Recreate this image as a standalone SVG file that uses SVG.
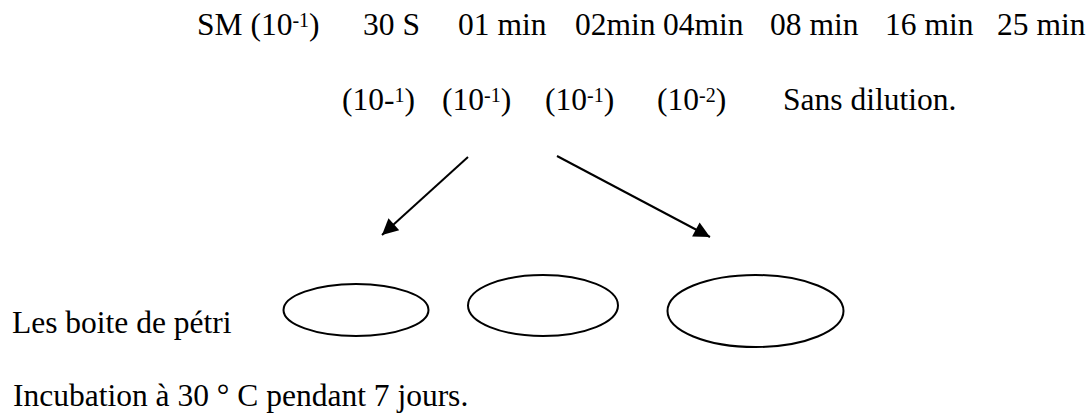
<svg xmlns="http://www.w3.org/2000/svg" width="1089" height="417" viewBox="0 0 1089 417">
<style>
text{font-family:"Liberation Serif","Times New Roman",serif;font-size:31.5px;fill:#000}
.sup{font-size:20px}
.dish{fill:none;stroke:#000;stroke-width:2}
.arr{stroke:#000;stroke-width:2;fill:none}
</style>
<defs>
<marker id="ah" viewBox="0 0 10 10" refX="10" refY="5" markerWidth="9" markerHeight="8" markerUnits="strokeWidth" orient="auto">
<path d="M0,0 L10,5 L0,10 z" fill="#000"/>
</marker>
</defs>
<rect width="1089" height="417" fill="#fff"/>
<g id="times">
<text x="197" y="35">SM (10<tspan class="sup" dy="-8">-1</tspan><tspan dy="8">)</tspan></text>
<text x="363" y="35">30 S</text>
<text x="458" y="35">01 min</text>
<text x="575" y="35">02min</text>
<text x="663" y="35">04min</text>
<text x="770" y="35">08 min</text>
<text x="885" y="35">16 min</text>
<text x="997" y="35">25 min</text>
</g>
<g id="dilutions">
<text x="342" y="110">(10-<tspan class="sup" dy="-8">1</tspan><tspan dy="8">)</tspan></text>
<text x="442" y="110">(10<tspan class="sup" dy="-8">-1</tspan><tspan dy="8">)</tspan></text>
<text x="545" y="110">(10<tspan class="sup" dy="-8">-1</tspan><tspan dy="8">)</tspan></text>
<text x="657" y="110">(10<tspan class="sup" dy="-8">-2</tspan><tspan dy="8">)</tspan></text>
<text x="783" y="110">Sans dilution.</text>
</g>
<g id="connectors">
<line class="arr" x1="468" y1="157" x2="382" y2="235" marker-end="url(#ah)"/>
<line class="arr" x1="557" y1="156" x2="710" y2="237" marker-end="url(#ah)"/>
</g>
<g id="label-petri">
<text x="12" y="333">Les boite de pétri</text>
</g>
<g id="dish1"><ellipse class="dish" cx="356" cy="310" rx="72.5" ry="26"/></g>
<g id="dish2"><ellipse class="dish" cx="543" cy="305.5" rx="75" ry="30.5"/></g>
<g id="dish3"><ellipse class="dish" cx="755.5" cy="311" rx="88" ry="36"/></g>
<g id="incubation">
<text x="13" y="406">Incubation à 30 ° C pendant 7 jours.</text>
</g>
</svg>
